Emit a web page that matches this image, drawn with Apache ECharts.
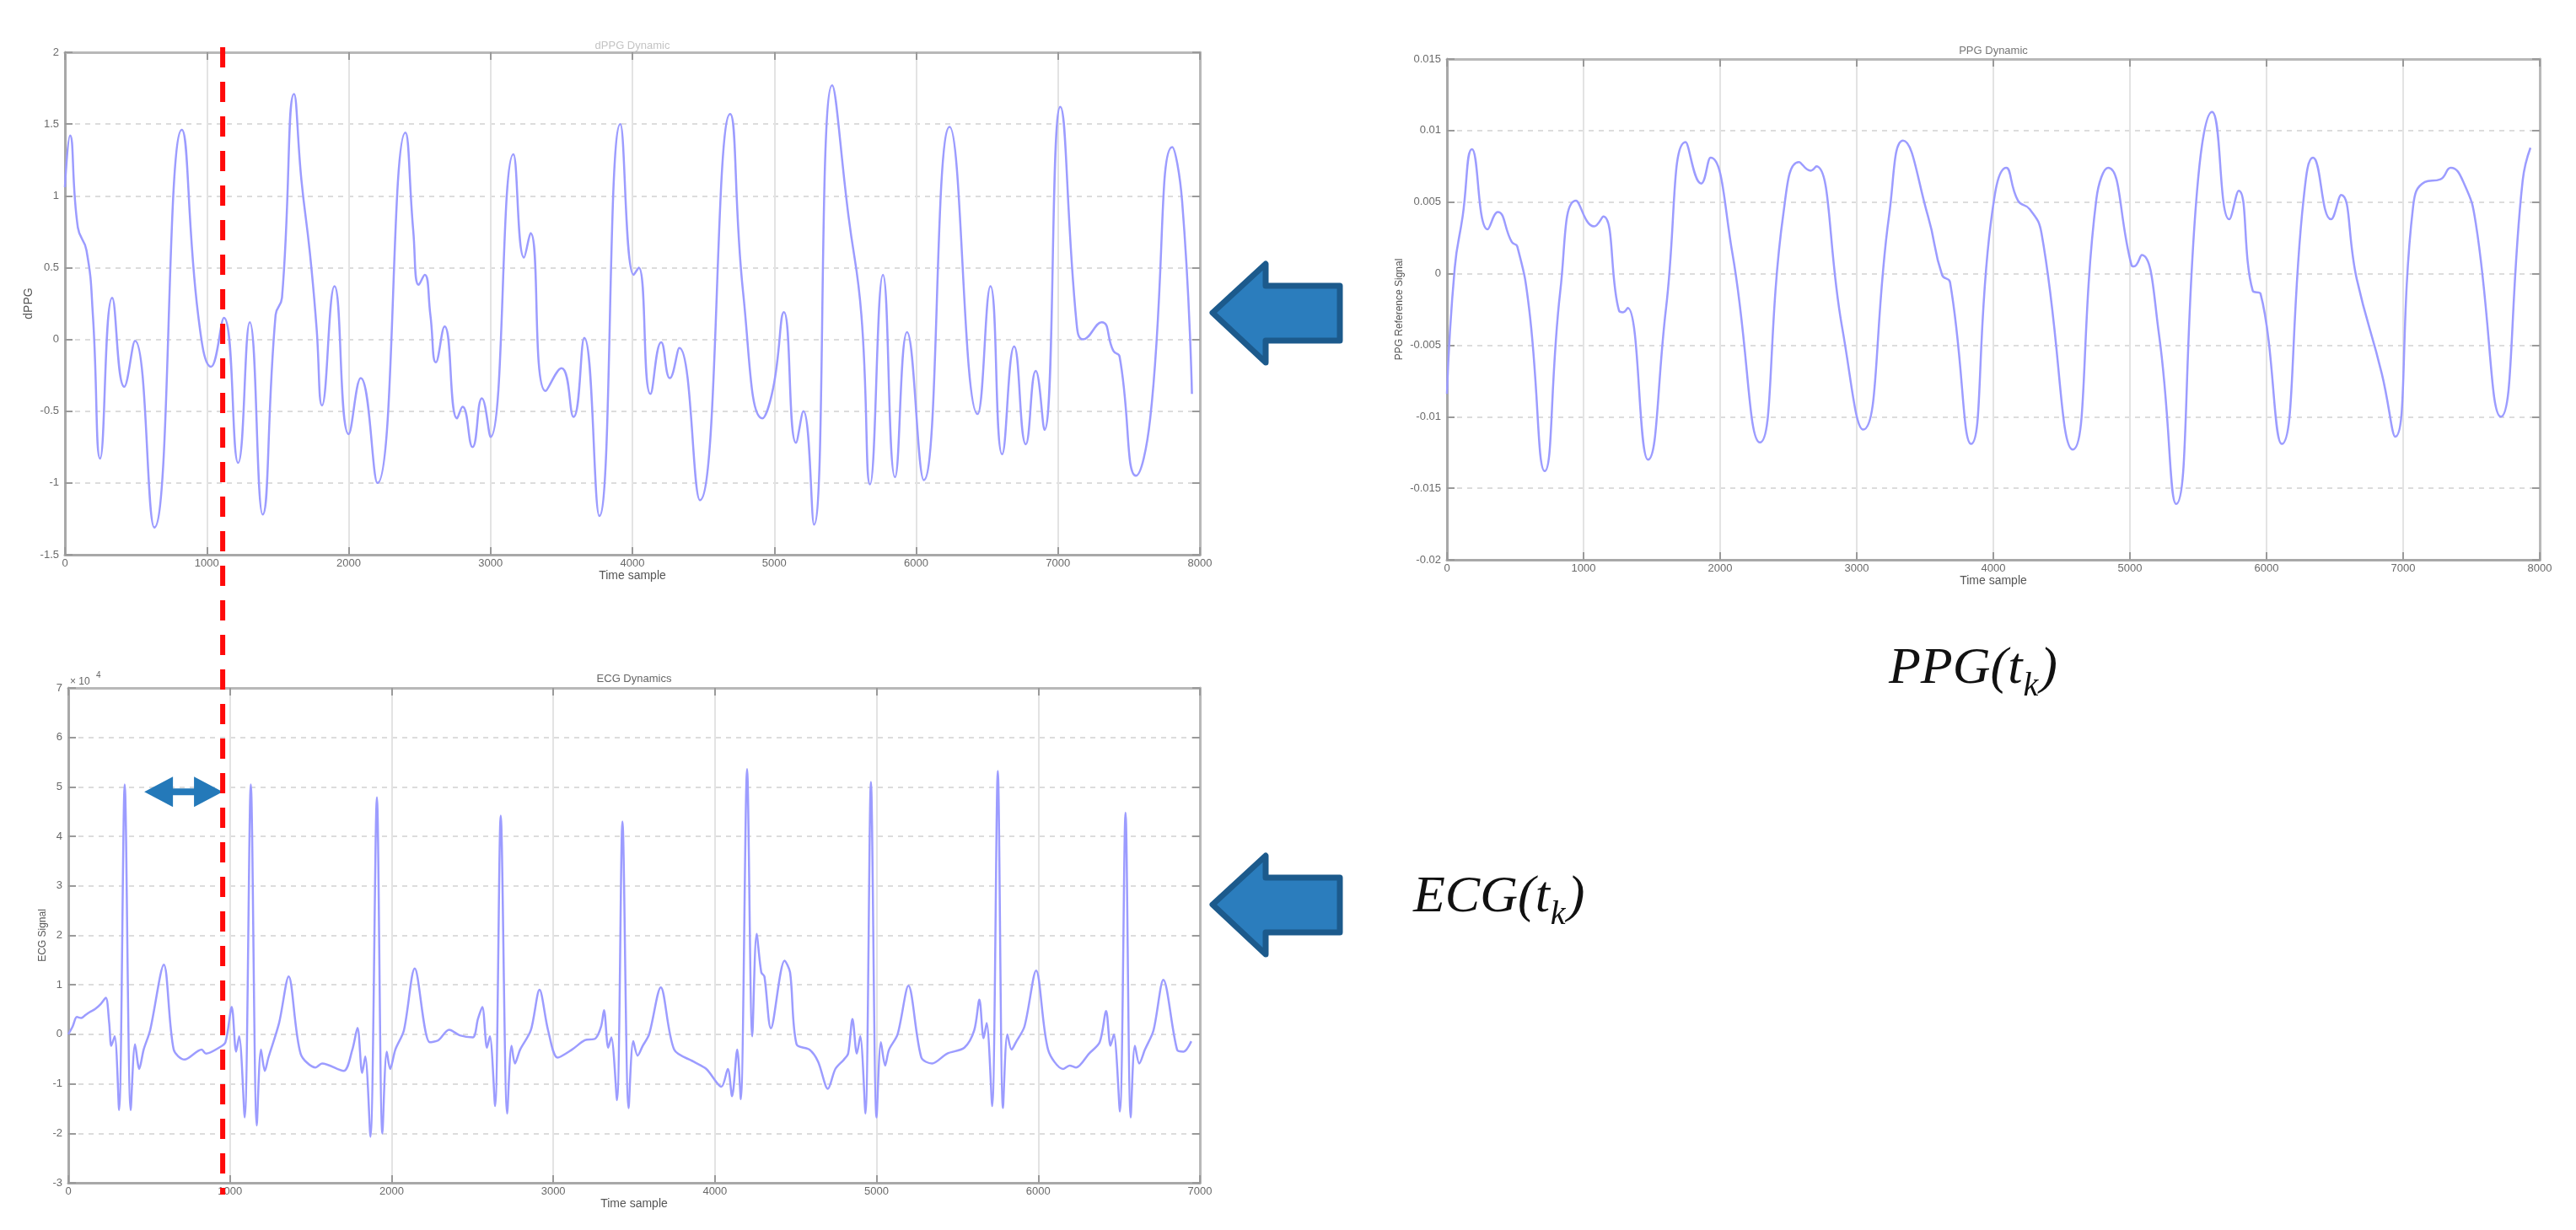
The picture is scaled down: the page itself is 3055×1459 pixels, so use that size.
<!DOCTYPE html>
<html><head><meta charset="utf-8">
<script src="https://cdn.jsdelivr.net/npm/echarts@6/dist/echarts.min.js"></script>
<style>html,body{margin:0;padding:0;background:#fff;}#c{width:3055px;height:1459px;}</style>
</head><body><div id="c"></div>
<script>
// ---------- data ----------
// dPPG (top-left): [time sample, value]
const dppgData = [[0,1.06],[36,1.42],[91,0.78],[152,0.62],[197,0.17],[248,-0.83],[333,0.29],[418,-0.33],[494,-0.01],[630,-1.31],[824,1.46],[939,0.17],[1030,-0.19],[1121,0.15],[1221,-0.86],[1303,0.12],[1394,-1.22],[1485,0.17],[1530,0.29],[1615,1.71],[1667,1.11],[1727,0.6],[1773,0.09],[1812,-0.46],[1900,0.37],[2000,-0.66],[2085,-0.27],[2203,-1.0],[2400,1.44],[2455,0.76],[2494,0.38],[2536,0.45],[2576,0.17],[2615,-0.16],[2676,0.09],[2764,-0.55],[2803,-0.47],[2873,-0.75],[2939,-0.41],[3000,-0.68],[3161,1.29],[3236,0.57],[3282,0.74],[3388,-0.36],[3500,-0.2],[3585,-0.54],[3661,0.01],[3767,-1.23],[3915,1.50],[4009,0.45],[4045,0.50],[4127,-0.38],[4203,-0.02],[4264,-0.27],[4331,-0.06],[4476,-1.12],[4689,1.57],[4780,0.33],[4916,-0.55],[4992,-0.34],[5068,0.19],[5153,-0.72],[5205,-0.50],[5280,-1.29],[5408,1.77],[5523,0.86],[5614,0.17],[5675,-1.01],[5766,0.45],[5851,-0.96],[5936,0.05],[6054,-0.98],[6236,1.48],[6433,-0.52],[6524,0.37],[6606,-0.80],[6691,-0.05],[6773,-0.73],[6843,-0.22],[6904,-0.63],[7016,1.62],[7131,0.11],[7177,0.0],[7308,0.12],[7390,-0.08],[7434,-0.12],[7550,-0.95],[7650,-0.55],[7805,1.34],[7875,0.96],[7944,-0.38]];

// PPG reference signal (top-right): [time sample, value]
const ppgData = [[0,-0.0084],[57,0.0004],[115,0.004],[183,0.0087],[298,0.0031],[372,0.0043],[475,0.0022],[515,0.0019],[601,-0.0024],[716,-0.0138],[830,-0.0012],[945,0.0051],[1077,0.0033],[1145,0.0040],[1260,-0.0026],[1289,-0.0027],[1323,-0.0024],[1472,-0.0130],[1604,-0.0024],[1747,0.0092],[1861,0.0063],[1930,0.0081],[2090,0.0014],[2291,-0.0118],[2463,0.0042],[2577,0.0078],[2663,0.0072],[2703,0.0075],[2892,-0.0037],[3047,-0.0109],[3236,0.0040],[3339,0.0093],[3522,0.0040],[3625,-0.0001],[3683,-0.0006],[3837,-0.0119],[3981,0.0035],[4095,0.0074],[4181,0.0051],[4267,0.0045],[4353,0.0028],[4582,-0.0123],[4754,0.0052],[4840,0.0074],[5011,0.0006],[5029,0.0005],[5086,0.0013],[5212,-0.0042],[5338,-0.0161],[5498,0.0065],[5601,0.0113],[5727,0.0038],[5796,0.0058],[5899,-0.0012],[5956,-0.0014],[6111,-0.0119],[6271,0.0052],[6340,0.0081],[6472,0.0038],[6546,0.0055],[6661,-0.0004],[6844,-0.0070],[6942,-0.0114],[7073,0.0047],[7159,0.0064],[7274,0.0066],[7348,0.0074],[7446,0.0063],[7532,0.0035],[7715,-0.0100],[7875,0.0065],[7932,0.0088]];

// ECG signal (bottom-left), values in units of 10^4: [time sample, value]
const ecgData = [[0,0],[27,0.16],[53,0.35],[80,0.33],[106,0.39],[133,0.45],[165,0.51],[200,0.61],[232,0.74],[253,0.23],[266,-0.23],[287,-0.04],[314,-1.53],[349,5.05],[386,-1.53],[413,-0.2],[439,-0.70],[466,-0.31],[506,0.08],[591,1.41],[652,-0.31],[719,-0.51],[825,-0.31],[852,-0.39],[932,-0.27],[972,-0.16],[1011,0.55],[1038,-0.35],[1057,-0.04],[1091,-1.68],[1129,5.05],[1166,-1.84],[1192,-0.31],[1216,-0.74],[1238,-0.47],[1304,0.23],[1363,1.17],[1437,-0.39],[1530,-0.67],[1570,-0.59],[1703,-0.74],[1757,-0.31],[1789,0.13],[1818,-0.78],[1837,-0.45],[1869,-2.07],[1909,4.79],[1943,-2.0],[1970,-0.35],[1991,-0.70],[2023,-0.31],[2076,0.08],[2143,1.33],[2236,-0.16],[2289,-0.12],[2356,0.09],[2422,-0.02],[2502,-0.06],[2534,0.31],[2561,0.55],[2590,-0.27],[2608,-0.04],[2640,-1.45],[2675,4.42],[2715,-1.60],[2742,-0.23],[2763,-0.59],[2795,-0.31],[2861,0.08],[2915,0.90],[2968,0.08],[3027,-0.47],[3115,-0.31],[3195,-0.12],[3262,-0.08],[3296,0.16],[3314,0.49],[3340,-0.27],[3359,-0.06],[3394,-1.33],[3428,4.30],[3466,-1.49],[3495,-0.14],[3522,-0.43],[3554,-0.23],[3593,0.0],[3665,0.95],[3748,-0.31],[3867,-0.55],[3947,-0.70],[4040,-1.06],[4080,-0.70],[4106,-1.25],[4138,-0.31],[4160,-1.31],[4199,5.36],[4231,-0.04],[4258,2.03],[4287,1.25],[4306,1.17],[4346,0.12],[4431,1.49],[4465,1.25],[4505,-0.20],[4585,-0.31],[4638,-0.55],[4699,-1.10],[4745,-0.70],[4798,-0.51],[4824,-0.39],[4851,0.31],[4878,-0.39],[4899,-0.04],[4931,-1.60],[4965,5.10],[5000,-1.68],[5027,-0.16],[5053,-0.63],[5077,-0.31],[5130,0.0],[5197,0.98],[5277,-0.47],[5343,-0.59],[5436,-0.39],[5543,-0.27],[5604,0.08],[5636,0.70],[5662,-0.08],[5681,0.23],[5715,-1.45],[5750,5.32],[5782,-1.49],[5809,0.0],[5835,-0.31],[5862,-0.16],[5915,0.16],[5987,1.29],[6061,-0.31],[6154,-0.70],[6194,-0.63],[6234,-0.67],[6314,-0.39],[6380,-0.16],[6420,0.47],[6447,-0.23],[6468,0.0],[6505,-1.56],[6540,4.48],[6572,-1.68],[6598,-0.23],[6625,-0.59],[6660,-0.31],[6713,0.08],[6774,1.10],[6859,-0.31],[6899,-0.35],[6947,-0.14]];

// axis ranges [min, max, step]
const dppgX = [0, 8000, 1000], dppgY = [-1.5, 2, 0.5];
const ppgX = [0, 8000, 1000],  ppgY = [-0.02, 0.015, 0.005];
const ecgX = [0, 7000, 1000],  ecgY = [-3, 7, 1];

// annotations (in data units of the ECG panel)
const syncSampleECG = 955;           // red dashed marker
const rrSpan = [470, 955];           // small double arrow
const rrLevel = 4.9;

const chartTitles = ['dPPG Dynamic', 'PPG Dynamic', 'ECG Dynamics'];
const yNames = ['dPPG', 'PPG Reference Signal', 'ECG Signal'];

// ---------- chart ----------
const chart = echarts.init(document.getElementById('c'), null, {renderer:'canvas'});
const FONT = 'Liberation Sans';
const LABEL = '#6a6a6a';
const LINE = '#9c9cff';

const grids = [
  {left:77, top:62, width:1346, height:596},
  {left:1716, top:70, width:1296, height:594},
  {left:81, top:816, width:1342, height:587}
];
const xr = [dppgX, ppgX, ecgX], yr = [dppgY, ppgY, ecgY];
const xNameGap = [16, 15, 14], yNameGap = [36, 50, 24];
const yFmt = [v => String(v), v => String(parseFloat(v.toFixed(4))), v => String(v)];

const xAxes = [], yAxes = [];
for (let i = 0; i < 3; i++) {
  xAxes.push({type:'value', gridIndex:i, min:xr[i][0], max:xr[i][1], interval:xr[i][2],
    axisLine:{show:true, onZero:false, lineStyle:{color:'#a8a8a8', width:3}},
    axisTick:{show:true, inside:true, length:9, lineStyle:{color:'#9a9a9a', width:2}},
    axisLabel:{color:LABEL, fontSize:13, fontFamily:FONT, margin:4, formatter: v => String(v)},
    splitLine:{show:true, lineStyle:{color:'#e3e3e3', width:2}},
    name:'Time sample', nameLocation:'middle', nameGap:xNameGap[i],
    nameTextStyle:{color:'#555', fontSize:14, fontFamily:FONT}});
  yAxes.push({type:'value', gridIndex:i, min:yr[i][0], max:yr[i][1], interval:yr[i][2],
    axisLine:{show:true, onZero:false, lineStyle:{color:'#a8a8a8', width:3}},
    axisTick:{show:true, inside:true, length:9, lineStyle:{color:'#9a9a9a', width:2}},
    axisLabel:{color:LABEL, fontSize:13, fontFamily:FONT, margin:7, formatter:yFmt[i]},
    splitLine:{show:true, lineStyle:{color:'#dcdcdc', width:2, type:[6,6]}},
    name:yNames[i], nameLocation:'middle', nameGap:yNameGap[i],
    nameTextStyle:{color:'#555', fontSize:i===0?14:12, fontFamily:FONT}});
}
for (let i = 0; i < 3; i++) {
  xAxes.push({type:'value', gridIndex:i, position:'top', min:xr[i][0], max:xr[i][1], interval:xr[i][2],
    axisLine:{show:true, onZero:false, lineStyle:{color:'#b8b8b8', width:3}},
    axisTick:{show:true, inside:true, length:9, lineStyle:{color:'#9a9a9a', width:2}},
    axisLabel:{show:false}, splitLine:{show:false}});
  yAxes.push({type:'value', gridIndex:i, position:'right', min:yr[i][0], max:yr[i][1], interval:yr[i][2],
    axisLine:{show:true, onZero:false, lineStyle:{color:'#b8b8b8', width:3}},
    axisTick:{show:true, inside:true, length:9, lineStyle:{color:'#9a9a9a', width:2}},
    axisLabel:{show:false}, splitLine:{show:false}});
}

const seriesData = [dppgData, ppgData, ecgData];
const series = seriesData.map((d, i) => ({
  type:'line', xAxisIndex:i, yAxisIndex:i, data:d, showSymbol:false, symbol:'none',
  smooth: i === 2 ? 0.3 : 0.5, lineStyle:{color:LINE, width:2.5}, z:3, silent:true
}));

chart.setOption({
  animation:false, backgroundColor:'#ffffff',
  grid: grids.map(g => Object.assign({containLabel:false}, g)),
  xAxis:xAxes, yAxis:yAxes, series:series
});

// ---------- annotations ----------
function px(gi, x, y) { return chart.convertToPixel({gridIndex:gi}, [x, y]); }
const measure = document.createElement('canvas').getContext('2d');
function textW(font, s) { measure.font = font; return measure.measureText(s).width; }

function mathLabel(x, baseline, head, sub, tail) {
  const fMain = 'italic 62px "Liberation Serif"';
  const fSub = 'italic 40px "Liberation Serif"';
  const w1 = textW(fMain, head), w2 = textW(fSub, sub);
  const mk = (t, f, xx, yy) => ({type:'text', z:50, style:{text:t, font:f, x:xx, y:yy, fill:'#111',
    textAlign:'left', align:'left', textVerticalAlign:'middle', verticalAlign:'middle'}});
  return [
    mk(head, fMain, x, baseline - 21),
    mk(sub, fSub, x + w1 + 1, baseline - 1),
    mk(tail, fMain, x + w1 + w2 + 3, baseline - 21)
  ];
}

function blockArrow(tipX, cy) {
  const hb = tipX + 63, tail = tipX + 151;
  return {type:'polygon', z:40, shape:{points:[[tipX,cy],[hb,cy-58],[hb,cy-32],[tail,cy-32],[tail,cy+33],[hb,cy+33],[hb,cy+59]]},
    style:{fill:'#2b7dbd', stroke:'#1c5a8c', lineWidth:7, lineJoin:'round'}};
}

const g0top = px(0, 0, dppgY[1]);
const redX = chart.convertToPixel({xAxisIndex:2}, syncSampleECG);
const ecgBottom = px(2, 0, ecgY[0]);
const a1 = px(2, rrSpan[0], rrLevel), a2 = px(2, rrSpan[1], rrLevel);
const yc = a1[1], x1 = a1[0], x2 = a2[0];

const titleCenters = [
  [px(0, 4000, 0)[0], grids[0].top - 8],
  [px(1, 4000, 0)[0], grids[1].top - 10],
  [px(2, 3500, 0)[0], grids[2].top - 11]
];
const titleColors = ['#c4c4c4', '#777', '#666'];

const graphics = [];
chartTitles.forEach((t, i) => graphics.push({type:'text', z:20, style:{text:t, x:titleCenters[i][0], y:titleCenters[i][1],
  font:'13px "Liberation Sans"', fill:titleColors[i], textAlign:'center', align:'center', textVerticalAlign:'middle', verticalAlign:'middle'}}));
// exponent label of ECG axis
graphics.push({type:'text', z:20, style:{text:'× 10', x:grids[2].left + 2, y:grids[2].top - 7, font:'12px "Liberation Sans"', fill:'#666',
  textAlign:'left', align:'left', textVerticalAlign:'middle', verticalAlign:'middle'}});
graphics.push({type:'text', z:20, style:{text:'4', x:grids[2].left + 33, y:grids[2].top - 15, font:'10px "Liberation Sans"', fill:'#666',
  textAlign:'left', align:'left', textVerticalAlign:'middle', verticalAlign:'middle'}});
// red dashed sync line
graphics.push({type:'line', z:60, shape:{x1:redX, y1:g0top[1] - 6, x2:redX, y2:ecgBottom[1] + 14},
  style:{stroke:'#ff0a0a', lineWidth:6, lineDash:[24,17]}});
// double arrow
const hl = 34, hh = 18, st = 4;
graphics.push({type:'polygon', z:55, shape:{points:[[x1,yc],[x1+hl,yc-hh],[x1+hl,yc-st],[x2-hl,yc-st],[x2-hl,yc-hh],[x2,yc],[x2-hl,yc+hh],[x2-hl,yc+st],[x1+hl,yc+st],[x1+hl,yc+hh]]},
  style:{fill:'#2479b9'}});
// block arrows
graphics.push(blockArrow(1438, 371));
graphics.push(blockArrow(1438, 1073));
// math labels
mathLabel(2240, 815, 'PPG(t', 'k', ')').forEach(e => graphics.push(e));
mathLabel(1676, 1086, 'ECG(t', 'k', ')').forEach(e => graphics.push(e));

chart.setOption({graphic: graphics});
</script>
</body></html>
